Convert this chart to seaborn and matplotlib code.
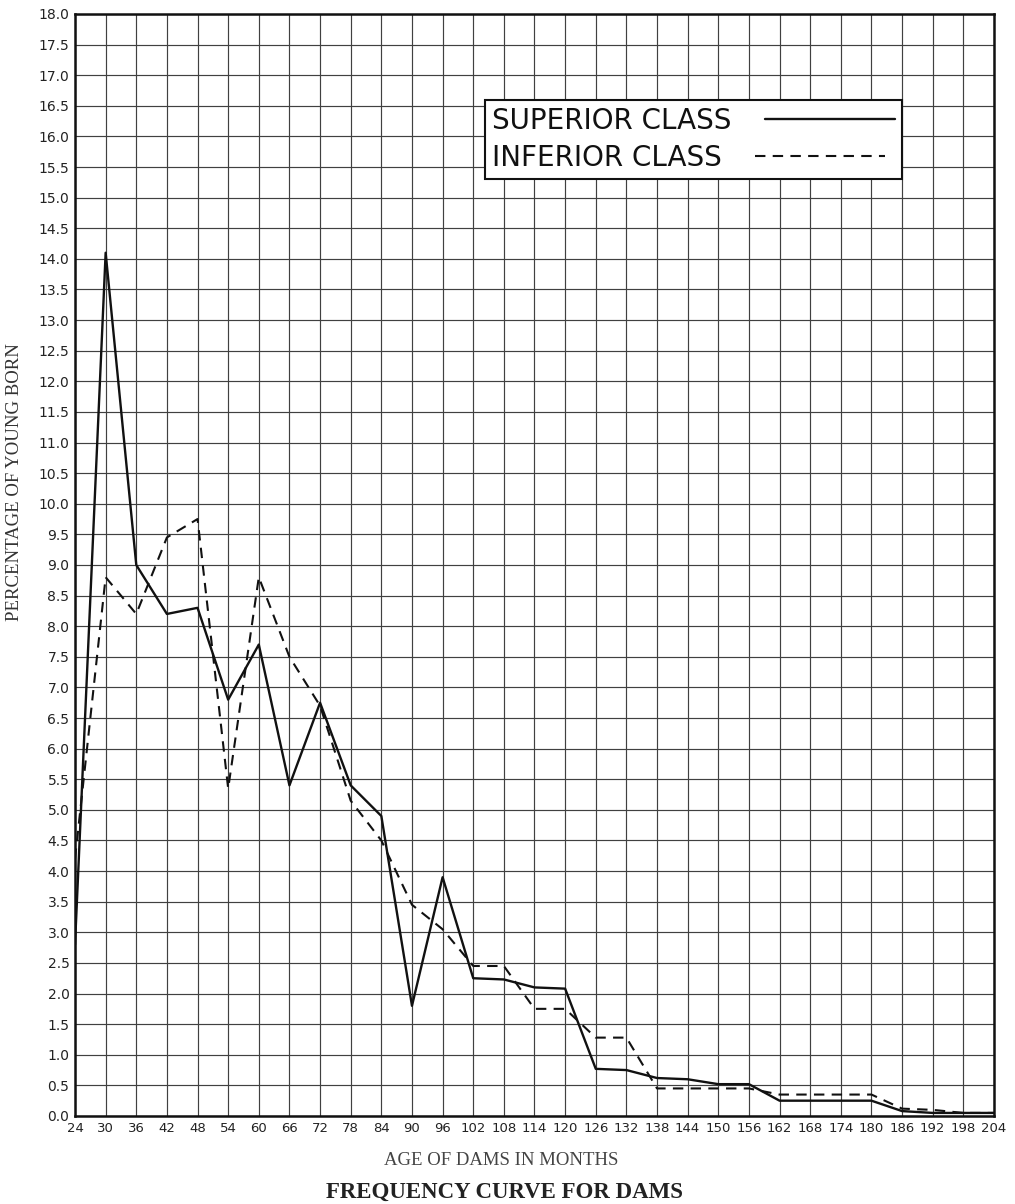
import numpy as np
import pandas as pd
import seaborn as sns
import matplotlib
matplotlib.use("Agg")
import matplotlib.pyplot as plt

# age of dams (months) and percentage of young born
months = [24, 30, 36, 42, 48, 54, 60, 66, 72, 78, 84, 90, 96, 102, 108, 114,
          120, 126, 132, 138, 144, 150, 156, 162, 168, 174, 180, 186, 192, 198, 204]
superior = [2.8, 14.1, 9.0, 8.2, 8.3, 6.8, 7.7, 5.4, 6.75, 5.4, 4.9, 1.8, 3.9, 2.25,
            2.23, 2.1, 2.08, 0.77, 0.75, 0.62, 0.6, 0.52, 0.52, 0.25, 0.25, 0.25,
            0.25, 0.08, 0.05, 0.05, 0.05]
inferior = [4.2, 8.8, 8.2, 9.45, 9.75, 5.35, 8.8, 7.5, 6.7, 5.15, 4.5, 3.45, 3.05,
            2.45, 2.45, 1.75, 1.75, 1.28, 1.28, 0.45, 0.45, 0.45, 0.45, 0.35, 0.35,
            0.35, 0.35, 0.12, 0.1, 0.05, 0.05]

x_ticks = list(range(24, 205, 6))
y_ticks = [i * 0.5 for i in range(37)]

df = pd.DataFrame({"month": months, "superior": superior, "inferior": inferior})

sns.set_theme()
sns.set_style("white")
plt.rcParams['font.family'] = ['DejaVu Sans']

fig = plt.figure(figsize=(10.15, 12.04), dpi=100)
ax = fig.add_axes([0.0739, 0.0731, 0.9054, 0.9153])

ink = "#111111"
sns.lineplot(data=df, x="month", y="superior", ax=ax, color=ink, linewidth=1.7,
             label="SUPERIOR CLASS")
sns.lineplot(data=df, x="month", y="inferior", ax=ax, color=ink, linewidth=1.5,
             linestyle=(0, (5, 3.5)), label="INFERIOR CLASS")

ax.set_xlim(24, 204)
ax.set_ylim(0, 18)
ax.set_xticks(x_ticks)
ax.set_yticks(y_ticks)
ax.set_xticklabels([str(t) for t in x_ticks], fontsize=9.5, color="#222222")
ax.set_yticklabels(["%.1f" % t for t in y_ticks], fontsize=10, color="#222222")
ax.tick_params(length=0, pad=4)
ax.grid(True, color="#404040", linewidth=0.85)
ax.set_axisbelow(True)
for s in ax.spines.values():
    s.set_color(ink)
    s.set_linewidth(1.8)
    s.set_visible(True)

ax.set_xlabel("")
ax.set_ylabel("")

leg = ax.legend(loc="upper left", bbox_to_anchor=(0.446, 0.922), borderaxespad=0,
                markerfirst=False, fancybox=False, framealpha=1, edgecolor=ink,
                prop={'size': 20}, handlelength=4.7, handletextpad=1.2,
                labelspacing=0.32, borderpad=0.25)
leg.get_frame().set_linewidth(1.5)
for t in leg.get_texts():
    t.set_color(ink)
# keep the label texts flush left like the original box
for col in leg._legend_handle_box.get_children():
    col.align = "left"

fig.text(0.014, 0.60, "PERCENTAGE OF YOUNG BORN", rotation=90, ha="center",
         va="center", family=["Liberation Serif"], fontsize=13.5, color="#333333")
fig.text(0.494, 0.036, "AGE OF DAMS IN MONTHS", ha="center", va="center",
         family=["Liberation Serif"], fontsize=13.5, color="#444444")
fig.text(0.497, 0.010, "FREQUENCY CURVE FOR DAMS", ha="center", va="center",
         family=["Liberation Serif"], fontsize=16.5, fontweight="bold", color="#222222")

plt.savefig("out.png", dpi=100)
